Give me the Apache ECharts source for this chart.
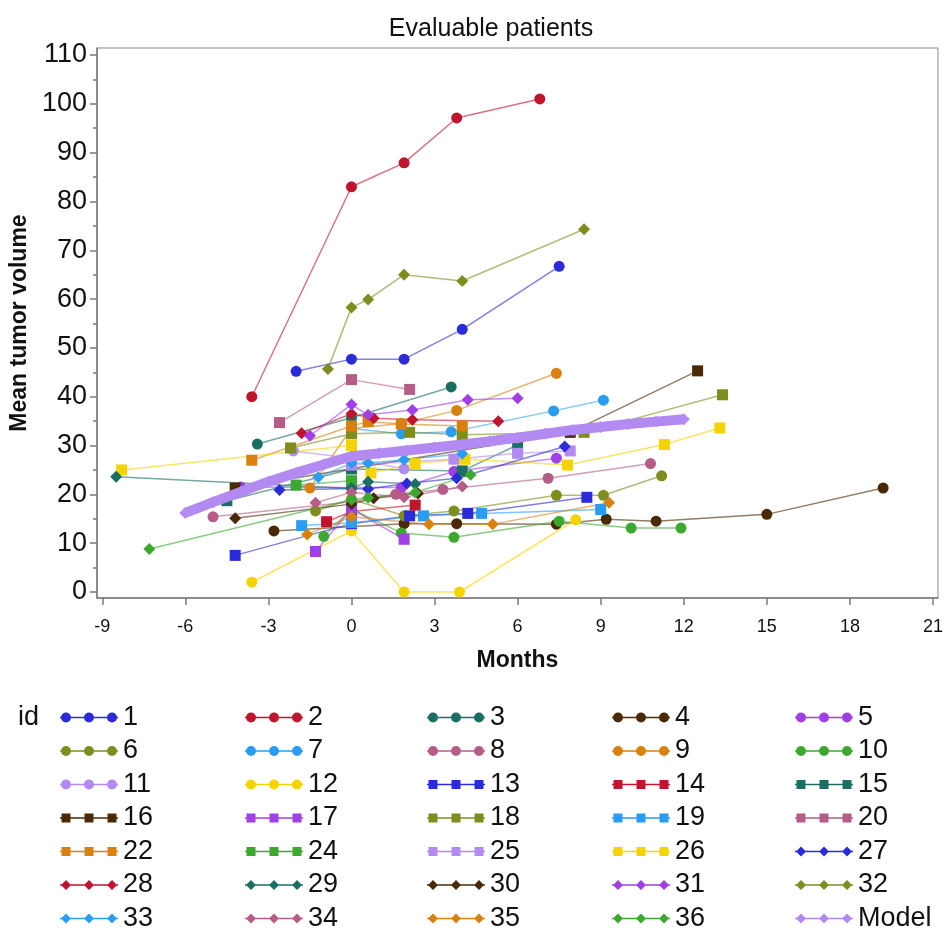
<!DOCTYPE html>
<html>
<head>
<meta charset="utf-8">
<script src="https://cdn.jsdelivr.net/npm/echarts@6/dist/echarts.min.js"></script>
<style>
  html, body { margin: 0; padding: 0; background: #fff; }
  #charts { width: 946px; height: 929px; }
</style>
</head>
<body>
<div id="charts"></div>
<script>
// patient ids and their [month, volume] readings
var ids = ['1','2','3','4','5','6','7','8','9','10','11','12','13','14','15','16','17','18','19','20',
           '22','24','25','26','27','28','29','30','31','32','33','34','35','36'];

var p1  = [[-2.0,45.2],[0,47.7],[1.9,47.7],[4.0,53.8],[7.5,66.7]];
var p2  = [[-3.6,40],[0,83],[1.9,87.9],[3.8,97.1],[6.8,101]];
var p3  = [[-3.4,30.3],[0,35.7],[3.6,42]];
var p4  = [[-2.8,12.5],[1.9,14],[3.8,14],[7.4,13.9],[9.2,14.9],[11,14.5],[15,15.9],[19.2,21.3]];
var p5  = [[-4,21.5],[0,21.4],[1.8,21.4],[3.7,24.7],[7.4,27.4]];
var p6  = [[-1.3,16.6],[0,19],[1.9,15.6],[3.7,16.6],[7.4,19.8],[9.1,19.8],[11.2,23.8]];
var p7  = [[0,33.5],[1.8,32.4],[3.6,32.8],[7.3,37.1],[9.1,39.3]];
var p8  = [[-5,15.4],[0,18.5],[1.6,20],[3.3,21],[7.1,23.3],[10.8,26.3]];
var p9  = [[-1.5,21.3],[0,33.5],[1.8,34.5],[3.8,37.2],[7.4,44.8]];
var p10 = [[-1,11.4],[0,17],[1.8,12.1],[3.7,11.2],[7.5,14.5],[10.1,13.1],[11.9,13.1]];
var p11 = [[-2.1,28.9],[0,27.4],[1.9,25.2]];
var p12 = [[-3.6,2],[0,12.5],[1.9,0],[3.9,0],[8.1,14.8]];
var p13 = [[-4.2,7.5],[0,14],[2.1,15.6],[4.2,16.1],[8.5,19.4]];
var p14 = [[-0.9,14.4],[0,16.5],[2.3,17.8]];
var p15 = [[-4.5,18.7],[0,25.2],[4,24.8],[6,30.1]];
var p16 = [[-4.2,21.3],[7.9,32.7],[12.5,45.3]];
var p17 = [[-1.3,8.3],[0,17],[1.9,10.8]];
var p18 = [[-2.2,29.5],[0,32.4],[2.1,32.7],[4,32.2],[8.4,32.7],[13.4,40.4]];
var p19 = [[-1.8,13.6],[0,14.2],[2.6,15.6],[4.7,16.1],[9,16.9]];
var p20 = [[-2.6,34.7],[0,43.5],[2.1,41.5]];
var p22 = [[-3.6,27],[0,34],[0.6,34.9],[1.8,34.4],[4,34]];
var p24 = [[-2,21.9],[0,22.8]];
var p25 = [[0,26],[3.7,27.2],[6,28.4],[7.9,28.9]];
var p26 = [[-8.3,25],[0,30],[0.7,24.4],[2.3,26.3],[4.1,27.2],[7.8,26],[11.3,30.2],[13.3,33.6]];
var p27 = [[-2.6,20.9],[0,21.2],[0.6,21.1],[2,22.2],[3.8,23.3],[7.7,29.8]];
var p28 = [[-1.8,32.5],[0,36.5],[0.8,35.6],[2.2,35.3],[5.3,35]];
var p29 = [[-8.5,23.6],[0,21.2],[0.6,22.6],[2.3,22.1]];
var p30 = [[-4.2,15.1],[0,18],[0.8,19.2],[2.4,20.2]];
var p31 = [[-1.5,32],[0,38.4],[0.6,36.3],[2.2,37.3],[4.2,39.4],[6,39.7]];
var p32 = [[-0.85,45.7],[0,58.3],[0.6,59.9],[1.9,65],[4,63.7],[8.4,74.3]];
var p33 = [[-1.2,23.5],[0,26.4],[0.6,26.4],[1.9,27.1],[4,28.3]];
var p34 = [[-1.3,18.3],[0,20.4],[1.9,19.4],[4,21.6]];
var p35 = [[-1.6,11.8],[0,15.4],[2.8,13.9],[5.1,13.9],[9.3,18.3]];
var p36 = [[-7.3,8.8],[0,18.9],[0.6,19.3],[2.3,20.4],[4.3,24]];

var patients = [p1,p2,p3,p4,p5,p6,p7,p8,p9,p10,p11,p12,p13,p14,p15,p16,p17,p18,p19,p20,
                p22,p24,p25,p26,p27,p28,p29,p30,p31,p32,p33,p34,p35,p36];

// fitted model curve
var modelMonths = [-6,-5,-4,-3,-2,-1,0,1,2,3,4,5,6,7,8,9,10,11,12];
var modelVol    = [16.2,18.4,20.5,22.6,24.4,26.1,27.8,28.4,29.0,29.6,30.2,30.9,31.6,32.4,33.2,33.8,34.4,34.9,35.4];

var xTicks = [-9,-6,-3,0,3,6,9,12,15,18,21];
var yTicks = [0,10,20,30,40,50,60,70,80,90,100,110];
var yMinor = [5,15,25,35,45,55,65,75,85,95,105];

var palette = ['#2B2BD9','#C0152E','#1B6F62','#4A2A06','#A03FE6','#7F8D1F',
               '#2A9DF2','#B65D87','#D8810F','#3DA830','#B38AF2','#F5D300'];
var shapes = ['circle','rect','diamond'];
var font = "'Liberation Sans', Arial, sans-serif";

var bar = 'M0 4.2H58V5.8H0Z ';
var icons = {
	circle : 'path://' + bar + 'M1 5A5 5 0 1 1 11 5A5 5 0 1 1 1 5Z M24 5A5 5 0 1 1 34 5A5 5 0 1 1 24 5Z M47 5A5 5 0 1 1 57 5A5 5 0 1 1 47 5Z',
	rect : 'path://' + bar + 'M1.5 0.5H10.5V9.5H1.5Z M24.5 0.5H33.5V9.5H24.5Z M47.5 0.5H56.5V9.5H47.5Z',
	diamond : 'path://' + bar + 'M6 0L11 5L6 10L1 5Z M29 0L34 5L29 10L24 5Z M52 0L57 5L52 10L47 5Z'
};

var series = [];
var legendItems = [];
for (var i = 0; i < ids.length; i++) {
	var col = palette[i % 12];
	var shp = shapes[Math.floor(i / 12)];
	series.push({
		name : ids[i],
		type : 'line',
		data : patients[i],
		symbol : shp,
		symbolSize : shp == 'diamond' ? 12 : 11,
		itemStyle : { color : col },
		lineStyle : { color : col, width : 1.5, opacity : 0.6 },
		emphasis : { disabled : true },
		z : 3
	});
	legendItems.push({ name : ids[i], icon : icons[shp] });
}
var modelData = [];
for (var k = 0; k < modelMonths.length; k++) modelData.push([modelMonths[k], modelVol[k]]);
series.push({
	name : 'Model',
	type : 'line',
	data : modelData,
	symbol : 'diamond',
	symbolSize : 12,
	itemStyle : { color : '#B38AF2' },
	lineStyle : { color : '#B38AF2', width : 10 },
	emphasis : { disabled : true },
	z : 4
});
legendItems.push({ name : 'Model', icon : icons.diamond });

// five legend columns
var colLeft = [60, 245, 427, 612, 795];
var legends = [];
for (var c = 0; c < 5; c++) {
	var items = [];
	for (var j = c; j < legendItems.length; j += 5) items.push(legendItems[j]);
	legends.push({
		orient : 'vertical',
		left : colLeft[c],
		top : 704,
		height : 260,
		padding : 0,
		itemWidth : 58,
		itemHeight : 10,
		itemGap : 6.5,
		selectedMode : false,
		data : items,
		textStyle : { fontSize : 27, lineHeight : 27, color : '#111', fontFamily : font }
	});
}

var axisColor = '#7a7a7a';
var chart = echarts.init(document.getElementById('charts'));
var option = {
	animation : false,
	backgroundColor : '#fff',
	textStyle : { fontFamily : font },
	grid : { left : 97, right : 4, top : 48, bottom : 331, show : true, borderColor : '#8a8a8a', borderWidth : 1 },
	legend : legends,
	graphic : [
		{ type : 'text', x : 491, y : 29,
		  style : { text : 'Evaluable patients', align : 'center', verticalAlign : 'middle',
		            font : "25px 'Liberation Sans', Arial", fill : '#111' } },
		{ type : 'text', x : 18, y : 718,
		  style : { text : 'id', verticalAlign : 'middle', font : "27px 'Liberation Sans', Arial", fill : '#111' } }
	],
	xAxis : {
		type : 'value', min : -9.19, max : 21.18,
		splitLine : { show : false },
		axisLine : { onZero : false, lineStyle : { color : axisColor, width : 1.5 } },
		axisTick : { customValues : xTicks, length : 7, lineStyle : { color : axisColor, width : 1.5 } },
		axisLabel : { customValues : xTicks, fontSize : 18, color : '#111', margin : 20 },
		name : 'Months', nameLocation : 'middle', nameGap : 51,
		nameTextStyle : { fontSize : 23, fontWeight : 'bold', color : '#111' }
	},
	yAxis : [{
		type : 'value', min : -1.23, max : 111.43,
		splitLine : { show : false },
		axisLine : { onZero : false, lineStyle : { color : axisColor, width : 1.5 } },
		axisTick : { customValues : yTicks, length : 7, lineStyle : { color : axisColor, width : 1.5 } },
		axisLabel : { customValues : yTicks, fontSize : 27, color : '#111', margin : 10 },
		name : 'Mean tumor volume', nameLocation : 'middle', nameGap : 65,
		nameTextStyle : { fontSize : 23, fontWeight : 'bold', color : '#111' }
	}, {
		type : 'value', min : -1.23, max : 111.43, position : 'left',
		splitLine : { show : false },
		axisLine : { show : false, onZero : false },
		axisTick : { customValues : yMinor, length : 4, lineStyle : { color : axisColor, width : 1.5 } },
		axisLabel : { show : false }
	}],
	series : series
};
chart.setOption(option);
</script>
</body>
</html>
